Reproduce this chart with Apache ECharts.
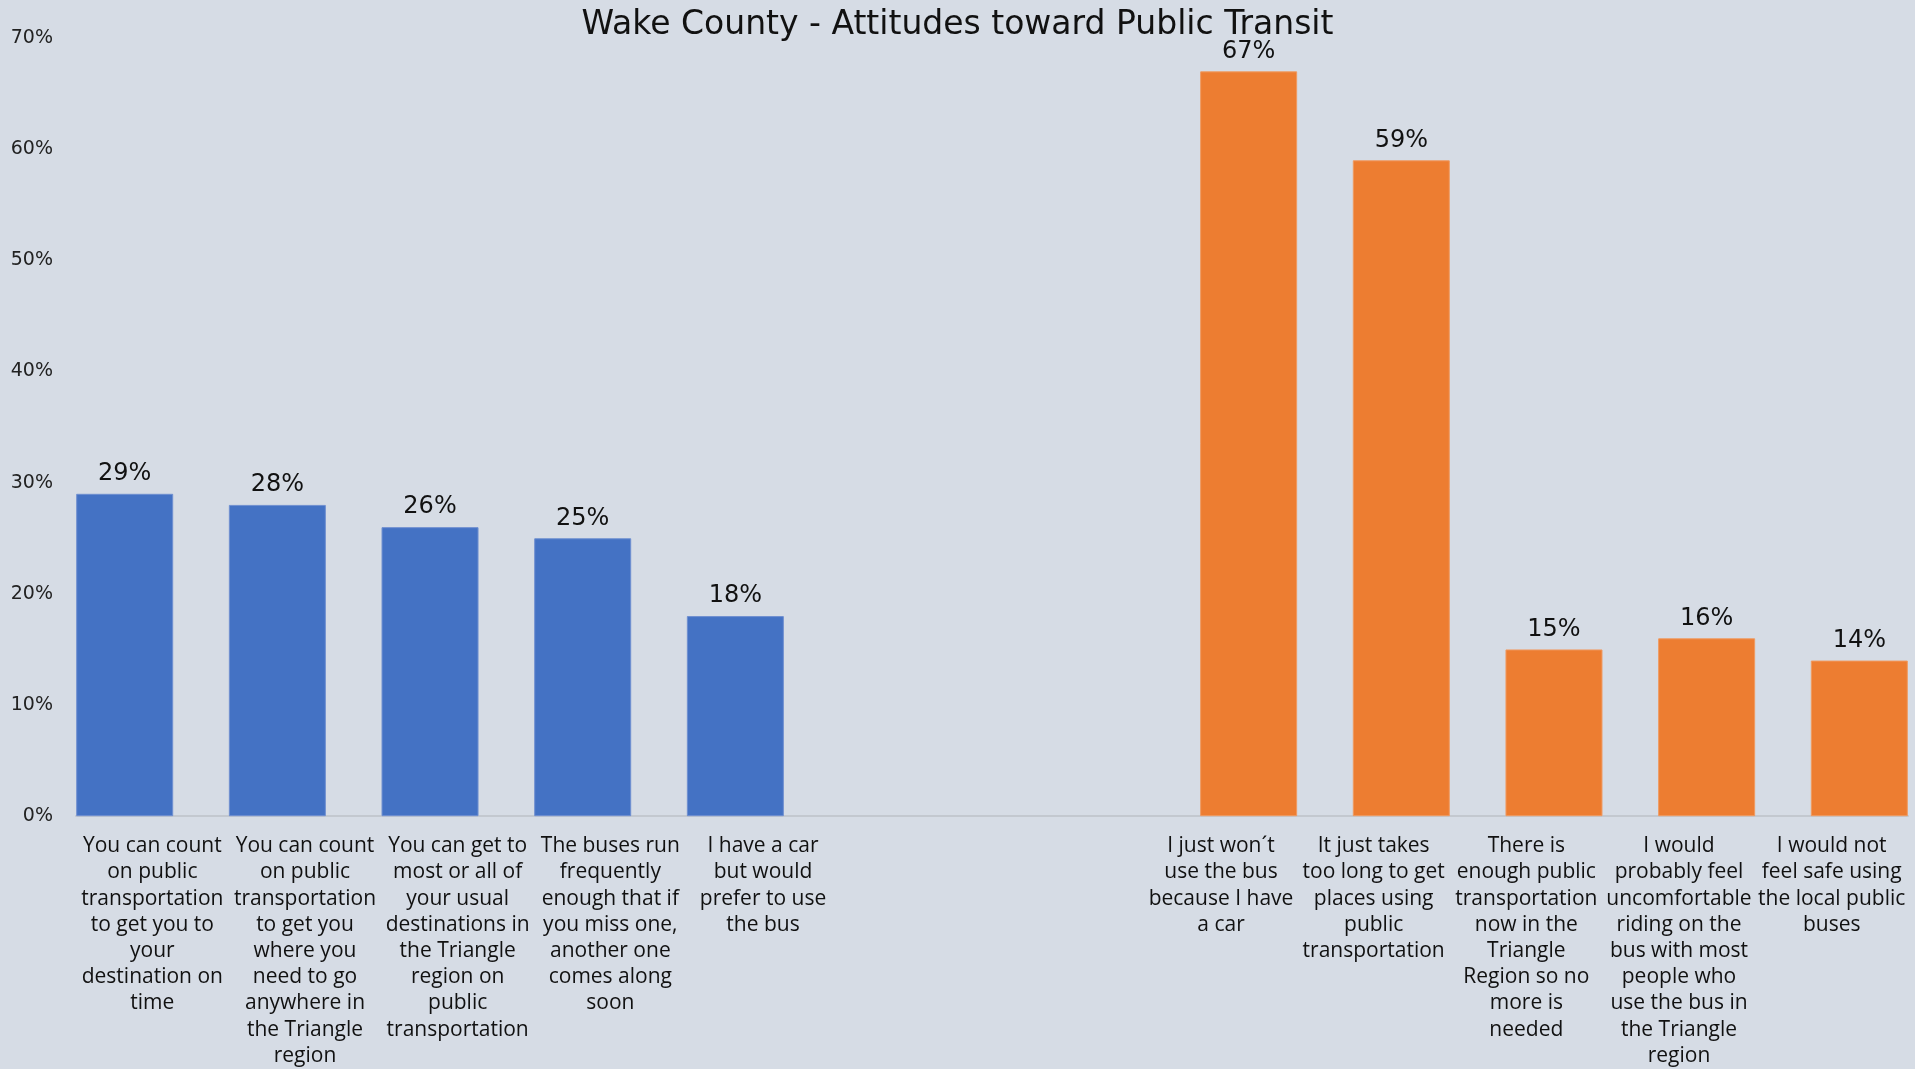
<!DOCTYPE html>
<html>
<head>
<meta charset="utf-8">
<script src="https://cdn.jsdelivr.net/npm/echarts@6/dist/echarts.min.js"></script>
<style>
html,body{margin:0;padding:0;background:#D6DCE5;width:1915px;height:1069px;overflow:hidden;}
#chart{width:1915px;height:1069px;display:block;}
</style>
</head>
<body>
<div id="chart"></div>
<script>
const titleText = 'Wake County - Attitudes toward Public Transit';
const categories = [
  'You can count\non public\ntransportation\nto get you to\nyour\ndestination on\ntime',
  'You can count\non public\ntransportation\nto get you\nwhere you\nneed to go\nanywhere in\nthe Triangle\nregion',
  'You can get to\nmost or all of\nyour usual\ndestinations in\nthe Triangle\nregion on\npublic\ntransportation',
  'The buses run\nfrequently\nenough that if\nyou miss one,\nanother one\ncomes along\nsoon',
  'I have a car\nbut would\nprefer to use\nthe bus',
  '',
  '',
  'I just won\u00b4t\nuse the bus\nbecause I have\na car',
  'It just takes\ntoo long to get\nplaces using\npublic\ntransportation',
  'There is\nenough public\ntransportation\nnow in the\nTriangle\nRegion so no\nmore is\nneeded',
  'I would\nprobably feel\nuncomfortable\nriding on the\nbus with most\npeople who\nuse the bus in\nthe Triangle\nregion',
  'I would not\nfeel safe using\nthe local public\nbuses'
];
const positiveValues = [29, 28, 26, 25, 18, null, null, null, null, null, null, null];
const negativeValues = [null, null, null, null, null, null, null, 67, 59, 15, 16, 14];
const yTicks = {min: 0, max: 70, interval: 10};

const chart = echarts.init(document.getElementById('chart'));
const labelStyle = {
  show: true,
  position: 'top',
  distance: 8,
  formatter: '{c}%',
  color: '#111',
  fontFamily: 'DejaVu Sans',
  fontSize: 24
};
chart.setOption({
  backgroundColor: '#D6DCE5',
  animation: false,
  title: {
    text: titleText,
    left: 'center',
    top: 4,
    textStyle: {fontFamily: 'DejaVu Sans', fontSize: 33, fontWeight: 'normal', color: '#111'}
  },
  grid: {left: 76, right: 7, top: 38, bottom: 250, containLabel: false},
  xAxis: {
    type: 'category',
    data: categories,
    axisLine: {show: true, lineStyle: {color: '#C3C8CF', width: 2}},
    axisTick: {show: false},
    axisLabel: {
      interval: 0,
      margin: 17,
      color: '#111',
      fontFamily: 'Open Sans',
      fontSize: 21,
      lineHeight: 26.2
    }
  },
  yAxis: {
    type: 'value',
    min: yTicks.min,
    max: yTicks.max,
    interval: yTicks.interval,
    splitLine: {show: false},
    axisLine: {show: false},
    axisTick: {show: false},
    axisLabel: {
      formatter: '{value}%',
      margin: 23,
      color: '#222',
      fontFamily: 'DejaVu Sans',
      fontSize: 19
    }
  },
  series: [
    {
      type: 'bar',
      data: positiveValues,
      barWidth: 97,
      barGap: '-43%',
      itemStyle: {color: '#4472C4', borderColor: '#6F8FD0', borderWidth: 1},
      label: labelStyle
    },
    {
      type: 'bar',
      data: negativeValues,
      barWidth: 97,
      barGap: '-43%',
      itemStyle: {color: '#ED7D31', borderColor: '#F09A60', borderWidth: 1},
      label: labelStyle
    }
  ]
});
</script>
</body>
</html>
